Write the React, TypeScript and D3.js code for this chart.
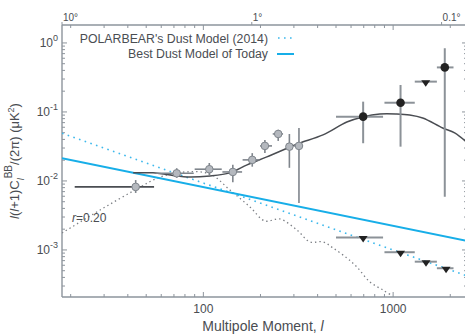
import React from "react";
import * as d3 from "d3";

// Multipole ranges and value ranges for the axes
const lRange: [number, number] = [18, 2450];
const dRange: [number, number] = [2.08e-4, 1.82];

// Dust power laws [l, D_l]
const dustToday: [number, number][] = [[18, 0.0213], [2450, 0.00135]];
const dustPB2014: [number, number][] = [[18, 0.0491], [2450, 0.00042]];

// Total BB model (lensing + r=0.20 + dust)
const totalModel: [number, number][] = [
  [42.7, 0.0131], [54.3, 0.0131], [82, 0.0114], [108.5, 0.0118], [138, 0.0131],
  [170, 0.0171], [216, 0.0223], [286, 0.0311], [323, 0.0356], [427, 0.0465],
  [570, 0.0716], [692, 0.0847], [851, 0.0936], [1045, 0.0936], [1222, 0.0905],
  [1431, 0.0819], [1824, 0.0586], [2109, 0.0496], [2450, 0.036],
];

// Primordial tensor B-modes, r = 0.20
const primordial: [number, number][] = [
  [18, 0.00176], [28.6, 0.0038], [43.7, 0.0074], [59.2, 0.0114], [80, 0.0135],
  [108.5, 0.0126], [138, 0.0074], [176, 0.0042], [211, 0.00263], [253, 0.00281],
  [311, 0.00195], [364, 0.00131], [427, 0.00131], [482, 0.00107], [570, 0.000766],
  [644, 0.000567], [754, 0.000344], [883, 0.000263], [995, 0.000215],
];

// BICEP2-style band powers: l, lLo, lHi, D, dLo, dHi
const bicepL = [44, 72.4, 107.5, 143, 181, 211, 248, 284, 319];
const bicepLo = [21, 56, 90, 126, 161, 199, 232, 276, 300];
const bicepHi = [55, 89, 125, 160, 198, 230, 263, 296, 335];
const bicepD = [0.0082, 0.0129, 0.0148, 0.0135, 0.0202, 0.0322, 0.048, 0.0314, 0.0322];
const bicepDLo = [0.0067, 0.0111, 0.0122, 0.0096, 0.0161, 0.0255, 0.038, 0.0155, 0.0048];
const bicepDHi = [0.0103, 0.0153, 0.0182, 0.0171, 0.0253, 0.0393, 0.0551, 0.0479, 0.0586];

// POLARBEAR-style detections
const pbL = [695, 1094, 1871];
const pbLo = [500, 900, 1700];
const pbHi = [885, 1300, 2080];
const pbD = [0.0855, 0.136, 0.442];
const pbDLo = [0.0352, 0.0314, 0.0059];
const pbDHi = [0.141, 0.246, 0.838];

// Upper limits
const ulL = [1485, 695, 1094, 1490, 1900];
const ulLo = [1300, 500, 900, 1300, 1700];
const ulHi = [1700, 885, 1300, 1700, 2080];
const ulD = [0.275, 0.00151, 0.000927, 0.000676, 0.000543];

const xTickLabels = [100, 1000];
const yTickExps = [0, -1, -2, -3];
const angleLabels = ["10°", "1°", "0.1°"];
const angleDeg = [10, 1, 0.1];

const W = 465;
const H = 334;
const left = 62, right = 467, top = 25, bottom = 297;

const axisColor = "#8d949c";
const textColor = "#4a4d52";
const font = "Liberation Sans, Arial, Helvetica, sans-serif";

export default function App() {
  const x = d3.scaleLog().domain(lRange).range([left, right]);
  const y = d3.scaleLog().domain(dRange).range([bottom, top]);

  const line = d3.line<[number, number]>().x((d) => x(d[0])).y((d) => y(d[1]));
  const smooth = d3
    .line<[number, number]>()
    .x((d) => x(d[0]))
    .y((d) => y(d[1]))
    .curve(d3.curveCatmullRom.alpha(0.5));

  // tick positions
  const xMinor: number[] = [];
  for (const dec of [10, 100, 1000]) {
    for (let k = 1; k <= 9; k++) {
      const v = dec * k;
      if (v >= lRange[0] && v <= lRange[1]) xMinor.push(v);
    }
  }
  const yMinor: number[] = [];
  for (const e of [-4, -3, -2, -1, 0]) {
    for (let k = 1; k <= 9; k++) {
      const v = k * Math.pow(10, e);
      if (v >= dRange[0] && v <= dRange[1]) yMinor.push(v);
    }
  }
  const isMajor = (v: number) => Math.abs(Math.log10(v) - Math.round(Math.log10(v))) < 1e-9;

  const ebColor = "#7f858c";

  return (
    <svg
      width={W}
      height={H}
      style={{ position: "absolute", left: 0, top: 0, background: "#fff" }}
      fontFamily={font}
    >
      <defs>
        <clipPath id="plot">
          <rect x={left} y={top} width={right - left} height={bottom - top} />
        </clipPath>
      </defs>

      {/* frame */}
      <g stroke={axisColor} strokeWidth={1.4} fill="none">
        <line x1={left} y1={top} x2={left} y2={bottom} />
        <line x1={left} y1={bottom} x2={right} y2={bottom} />
        <line x1={left} y1={top} x2={right} y2={top} />
        <line x1={right} y1={top} x2={right} y2={bottom} />
      </g>

      {/* x ticks, bottom and top */}
      <g stroke={axisColor} strokeWidth={1}>
        {xMinor.map((v) => {
          const len = isMajor(v) ? 5 : 3;
          return (
            <g key={"xt" + v}>
              <line x1={x(v)} x2={x(v)} y1={bottom} y2={bottom - len} />
              <line x1={x(v)} x2={x(v)} y1={top} y2={top + len} />
            </g>
          );
        })}
        {angleDeg.map((a) => (
          <line key={"at" + a} x1={x(180 / a)} x2={x(180 / a)} y1={top} y2={top - 3} />
        ))}
        {yMinor.map((v) => {
          const len = isMajor(v) ? 5 : 3;
          return (
            <g key={"yt" + v}>
              <line x1={left} x2={left + len} y1={y(v)} y2={y(v)} />
              <line x1={right} x2={right - len} y1={y(v)} y2={y(v)} />
            </g>
          );
        })}
      </g>

      {/* tick labels */}
      <g fill={textColor} fontSize={12}>
        {xTickLabels.map((v) => (
          <text key={"xl" + v} x={x(v)} y={313} textAnchor="middle">
            {v}
          </text>
        ))}
        {yTickExps.map((e) => (
          <text key={"yl" + e} x={58} y={y(Math.pow(10, e)) + 4} textAnchor="end">
            10
            <tspan fontSize={9} dy={-6}>
              {e}
            </tspan>
          </text>
        ))}
        {angleLabels.map((t, i) => (
          <text key={"al" + t} x={x(180 / angleDeg[i]) + 1} y={21} fontSize={10}>
            {t}
          </text>
        ))}
      </g>

      {/* axis titles */}
      <text x={263} y={331} textAnchor="middle" fontSize={14} fill={textColor}>
        Multipole Moment, <tspan fontStyle="italic">l</tspan>
      </text>
      <text
        transform="translate(19,161) rotate(-90)"
        textAnchor="middle"
        fontSize={13}
        fill={textColor}
      >
        <tspan fontStyle="italic">l</tspan>(<tspan fontStyle="italic">l</tspan>+1)C
        <tspan fontSize={9} dy={5} fontStyle="italic">l</tspan>
        <tspan fontSize={10} dy={-12}>BB</tspan>
        <tspan dy={7}>/(2π) (μK</tspan>
        <tspan fontSize={9} dy={-5}>2</tspan>
        <tspan dy={5}>)</tspan>
      </text>

      <g clipPath="url(#plot)">
        {/* models */}
        <path d={smooth(primordial) || ""} fill="none" stroke="#7d8086" strokeWidth={1.3} strokeDasharray="1.4 3" />
        <path d={line(dustPB2014) || ""} fill="none" stroke="#3cb8ec" strokeWidth={1.6} strokeDasharray="1.6 4.4" />
        <path d={line(dustToday) || ""} fill="none" stroke="#17aee8" strokeWidth={2} />
        <path d={smooth(totalModel) || ""} fill="none" stroke="#4a4d52" strokeWidth={1.5} />

        {/* BICEP2-style points */}
        {bicepL.map((l, i) => (
          <g key={"b" + i}>
            <line
              x1={x(bicepLo[i])}
              x2={x(bicepHi[i])}
              y1={y(bicepD[i])}
              y2={y(bicepD[i])}
              stroke={i === 0 ? "#4a4d52" : ebColor}
              strokeWidth={1.6}
            />
            <line x1={x(l)} x2={x(l)} y1={y(bicepDLo[i])} y2={y(bicepDHi[i])} stroke={ebColor} strokeWidth={1.6} />
            <circle cx={x(l)} cy={y(bicepD[i])} r={3.8} fill="#b4b8be" stroke="#7f858c" strokeWidth={1} />
          </g>
        ))}

        {/* POLARBEAR-style detections */}
        {pbL.map((l, i) => (
          <g key={"p" + i}>
            <line x1={x(pbLo[i])} x2={x(pbHi[i])} y1={y(pbD[i])} y2={y(pbD[i])} stroke="#8c9298" strokeWidth={2} />
            <line x1={x(l)} x2={x(l)} y1={y(pbDLo[i])} y2={y(pbDHi[i])} stroke="#8c9298" strokeWidth={2} />
            <circle cx={x(l)} cy={y(pbD[i])} r={4.3} fill="#222" />
          </g>
        ))}

        {/* upper limits */}
        {ulL.map((l, i) => {
          const cx = x(l);
          const cy = y(ulD[i]);
          return (
            <g key={"u" + i}>
              <line x1={x(ulLo[i])} x2={x(ulHi[i])} y1={cy} y2={cy} stroke="#8c9298" strokeWidth={2} />
              <path d={`M${cx - 4.5},${cy - 1.5} L${cx + 4.5},${cy - 1.5} L${cx},${cy + 5} Z`} fill="#222" />
            </g>
          );
        })}
      </g>

      {/* r label */}
      <text x={72} y={222} fontSize={12} fill={textColor}>
        <tspan fontStyle="italic">r</tspan>=0.20
      </text>

      {/* legend */}
      <g fontSize={12.3} fill={textColor}>
        <text x={268} y={42.5} textAnchor="end">
          POLARBEAR's Dust Model (2014)
        </text>
        <text x={268} y={58} textAnchor="end">
          Best Dust Model of Today
        </text>
        <line x1={278} x2={296} y1={38} y2={38} stroke="#3cb8ec" strokeWidth={1.6} strokeDasharray="1.6 4.4" />
        <line x1={277} x2={294} y1={54} y2={54} stroke="#17aee8" strokeWidth={2} />
      </g>
    </svg>
  );
}
